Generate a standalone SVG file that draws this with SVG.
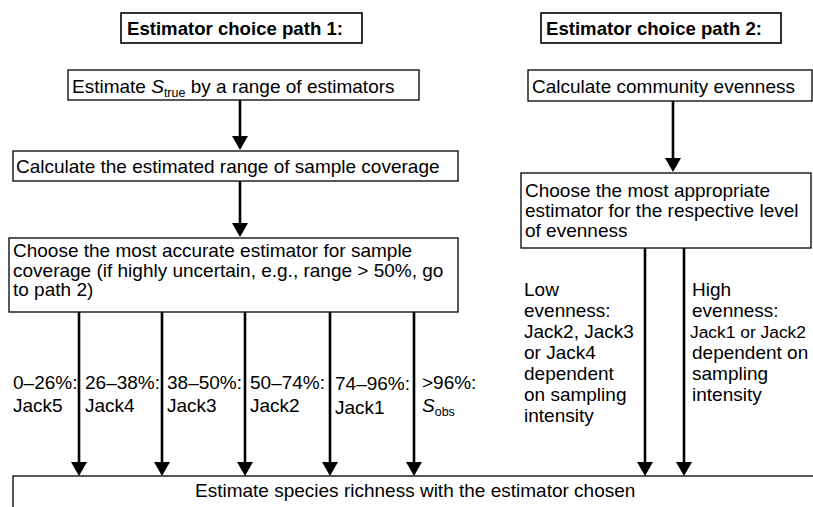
<svg xmlns="http://www.w3.org/2000/svg" width="813" height="507" viewBox="0 0 813 507">
<defs>
<style>
.box{fill:#fff;stroke:#000;stroke-width:1.3}
.tbox{fill:#fff;stroke:#000;stroke-width:1.6}
.t{font-family:"Liberation Sans",Arial,Helvetica,sans-serif;font-size:19px;fill:#000}
.b{font-weight:bold;font-size:18.6px}
.i{font-style:italic}
.sub{font-size:12.5px}
.arr{stroke:#000;stroke-width:2.6;fill:none;marker-end:url(#ah)}
</style>
<marker id="ah" viewBox="0 -8 14 16" refX="0" refY="0" markerWidth="14" markerHeight="16" markerUnits="userSpaceOnUse" orient="auto">
<path d="M0,-8 L14,0 L0,8 z" fill="#000"/>
</marker>
</defs>
<rect width="813" height="507" fill="#fff"/>
<g id="connectors">
<line class="arr" x1="240" y1="100" x2="240" y2="136"/>
<line class="arr" x1="240" y1="181" x2="240" y2="223"/>
<line class="arr" x1="673" y1="101" x2="673" y2="158"/>
<line class="arr" x1="79" y1="312" x2="79" y2="462"/>
<line class="arr" x1="162" y1="312" x2="162" y2="462"/>
<line class="arr" x1="245" y1="312" x2="245" y2="462"/>
<line class="arr" x1="330" y1="312" x2="330" y2="462"/>
<line class="arr" x1="414" y1="312" x2="414" y2="462"/>
<line class="arr" x1="645" y1="248" x2="645" y2="462"/>
<line class="arr" x1="684" y1="248" x2="684" y2="462"/>
</g>
<g id="title1">
<rect class="tbox" x="121" y="13" width="241" height="30"/>
<text class="t b" x="127" y="35">Estimator choice path 1:</text>
</g>
<g id="title2">
<rect class="tbox" x="541" y="13" width="240" height="30"/>
<text class="t b" x="546" y="35">Estimator choice path 2:</text>
</g>
<g id="estimate-strue">
<rect class="box" x="68" y="70" width="351" height="30"/>
<text class="t" x="72" y="93">Estimate <tspan class="i">S</tspan><tspan class="sub" dy="4">true</tspan><tspan dy="-4"> by a range of estimators</tspan></text>
</g>
<g id="calc-coverage">
<rect class="box" x="13" y="151" width="445" height="30"/>
<text class="t" x="16" y="173">Calculate the estimated range of sample coverage</text>
</g>
<g id="choose-accurate">
<rect class="box" x="9" y="238" width="449" height="74"/>
<text class="t" x="13" y="257">Choose the most accurate estimator for sample</text>
<text class="t" x="13" y="277">coverage (if highly uncertain, e.g., range &gt; 50%, go</text>
<text class="t" x="13" y="296">to path 2)</text>
</g>
<g id="calc-evenness">
<rect class="box" x="528" y="70" width="284" height="31"/>
<text class="t" x="532" y="93">Calculate community evenness</text>
</g>
<g id="choose-appropriate">
<rect class="box" x="521" y="173" width="290" height="75"/>
<text class="t" x="525" y="197">Choose the most appropriate</text>
<text class="t" x="525" y="217">estimator for the respective level</text>
<text class="t" x="525" y="237">of evenness</text>
</g>
<g id="labels">
<text class="t" x="13" y="389">0–26%:</text>
<text class="t" x="13" y="412">Jack5</text>
<text class="t" x="85" y="389">26–38%:</text>
<text class="t" x="85" y="412">Jack4</text>
<text class="t" x="167" y="389">38–50%:</text>
<text class="t" x="167" y="412">Jack3</text>
<text class="t" x="250" y="389">50–74%:</text>
<text class="t" x="250" y="412">Jack2</text>
<text class="t" x="335" y="390">74–96%:</text>
<text class="t" x="335" y="414">Jack1</text>
<text class="t" x="422" y="389">&gt;96%:</text>
<text class="t" x="422" y="412"><tspan class="i">S</tspan><tspan class="sub" dy="4">obs</tspan></text>
<text class="t" x="524" y="296">Low</text>
<text class="t" x="524" y="317">evenness:</text>
<text class="t" x="524" y="338">Jack2, Jack3</text>
<text class="t" x="524" y="359">or Jack4</text>
<text class="t" x="524" y="380">dependent</text>
<text class="t" x="524" y="401">on sampling</text>
<text class="t" x="524" y="422">intensity</text>
<text class="t" x="692" y="296">High</text>
<text class="t" x="692" y="317">evenness:</text>
<text class="t" x="690" y="338" style="font-size:17.4px">Jack1 or Jack2</text>
<text class="t" x="692" y="359">dependent on</text>
<text class="t" x="692" y="380">sampling</text>
<text class="t" x="692" y="401">intensity</text>
</g>
<g id="estimate-richness">
<rect class="box" x="13" y="476" width="820" height="60"/>
<text class="t" x="195" y="497">Estimate species richness with the estimator chosen</text>
</g>
</svg>
